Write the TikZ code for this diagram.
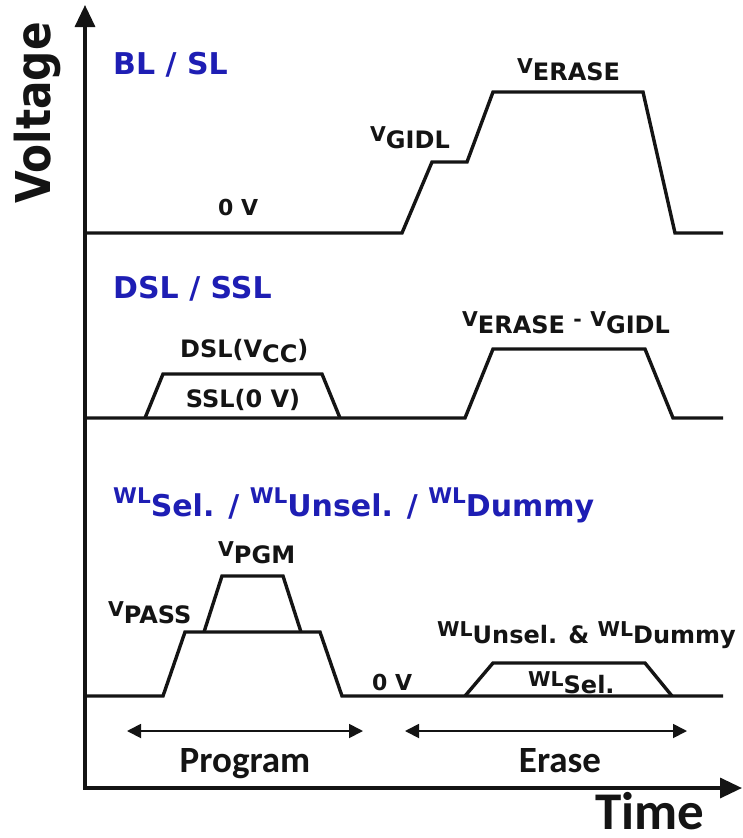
\documentclass[tikz,border=0pt]{standalone}
\usepackage{fontspec}
\setmainfont{DejaVu Sans}
\newfontfamily\carlito{Carlito}
\usetikzlibrary{arrows.meta}
\definecolor{ttlblue}{RGB}{30,30,180}
\definecolor{ink}{RGB}{20,20,20}
% signal name: smaller raised letter(s) followed by a full-size lowered suffix
\newcommand\sig[2]{\raisebox{6.5pt}{\scalebox{0.85}{#1}}#2}
\newcommand\tsig[2]{\raisebox{13pt}{\scalebox{0.72}{#1}}#2}

\begin{document}
\begin{tikzpicture}[x=1pt,y=-1pt,
  wave/.style={line width=3.4pt, draw=ink},
  axis/.style={line width=3.4pt, draw=ink, line cap=rect, -{Triangle[length=22pt,width=20pt]}},
  span/.style={line width=1.8pt, draw=ink, {Triangle[length=14pt,width=14pt]}-{Triangle[length=14pt,width=14pt]}},
  lbl/.style={inner sep=0pt, font=\fontsize{24}{24}\selectfont\bfseries, text=ink},
  lblsm/.style={lbl, font=\fontsize{22}{22}\selectfont\bfseries},
  ttl/.style={inner sep=0pt, font=\fontsize{30}{30}\selectfont\bfseries, text=ttlblue},
  phase/.style={inner sep=0pt, font=\fontsize{37}{37}\selectfont\carlito\bfseries, text=ink},
]
\useasboundingbox (0,0) rectangle (742,838);
\fill[white] (0,0) rectangle (742,838);

% axes
\coordinate (O) at (85,788);
\coordinate (Ytip) at (85,5);
\coordinate (Xtip) at (742,788);
\draw[axis] (O) -- (Ytip);
\draw[axis] (O) -- (Xtip);
\node[rotate=90, anchor=base, inner sep=0pt, text=ink,
      font=\fontsize{48}{48}\selectfont\bfseries] (vlabel) at (50,113) {\scalebox{0.88}[1]{Voltage}};
\node[anchor=base, inner sep=0pt, text=ink,
      font=\fontsize{53}{53}\selectfont\carlito\bfseries] (tlabel) at (650,829) {Time};

% BL / SL
\node[ttl, anchor=base west] (t1) at (113,74) {BL / SL};
\draw[wave] (85,233) -- (402,233) -- (432,162) -- (467,162) -- (493,92) -- (643,92) -- (675,233) -- (723,233);
\node[lblsm, anchor=base west] (bl0) at (218,215) {0 V};
\node[lbl, anchor=base west] (vgidl) at (370,148) {\sig{V}{GIDL}};
\node[lbl, anchor=base west] (verase) at (517,80) {\sig{V}{ERASE}};

% DSL / SSL
\node[ttl, anchor=base west] (t2) at (113,298) {DSL / SSL};
\draw[wave] (85,418) -- (465,418) -- (493,349) -- (645,349) -- (673,418) -- (723,418);
\draw[wave] (145,418) -- (163,374) -- (322,374) -- (340,418);
\node[lbl, anchor=base west] (dsl) at (180,357) {DSL(V\raisebox{-5pt}{CC})};
\node[lbl, anchor=base] (ssl) at (243,407) {SSL(0 V)};
\node[lbl, anchor=base west] (vdiff) at (462,333) {\sig{V}{ERASE} \raisebox{6.5pt}{\scalebox{0.85}{-}} \sig{V}{GIDL}};

% word lines
\node[ttl, anchor=base west] (t3) at (113,516) {\tsig{WL}{Sel.} / \tsig{WL}{Unsel.} / \tsig{WL}{Dummy}};
\draw[wave] (85,696) -- (163,696) -- (185,632) -- (320,632) -- (342,696) -- (723,696);
\draw[wave] (204,632) -- (222,576) -- (283,576) -- (301,632);
\draw[wave] (465,696) -- (493,663) -- (645,663) -- (672,696);
\node[lbl, anchor=base west] (vpgm) at (218,563) {\sig{V}{PGM}};
\node[lbl, anchor=base west] (vpass) at (108,623) {\sig{V}{PASS}};
\node[lblsm, anchor=base west] (wl0) at (372,690) {0 V};
\node[lbl, anchor=base west] (wlun) at (437,643) {\sig{WL}{Unsel.} \& \sig{WL}{Dummy}};
\node[lbl, anchor=base west] (wlsel) at (528,693) {\sig{WL}{Sel.}};

% operation phases
\coordinate (pL) at (127,731);
\coordinate (pR) at (363,731);
\coordinate (eL) at (405,731);
\coordinate (eR) at (687,731);
\draw[span] (pL) -- (pR);
\draw[span] (eL) -- (eR);
\node[phase, anchor=base] (prog) at (245,772) {Program};
\node[phase, anchor=base] (erase) at (560,772) {Erase};
\end{tikzpicture}
\end{document}
